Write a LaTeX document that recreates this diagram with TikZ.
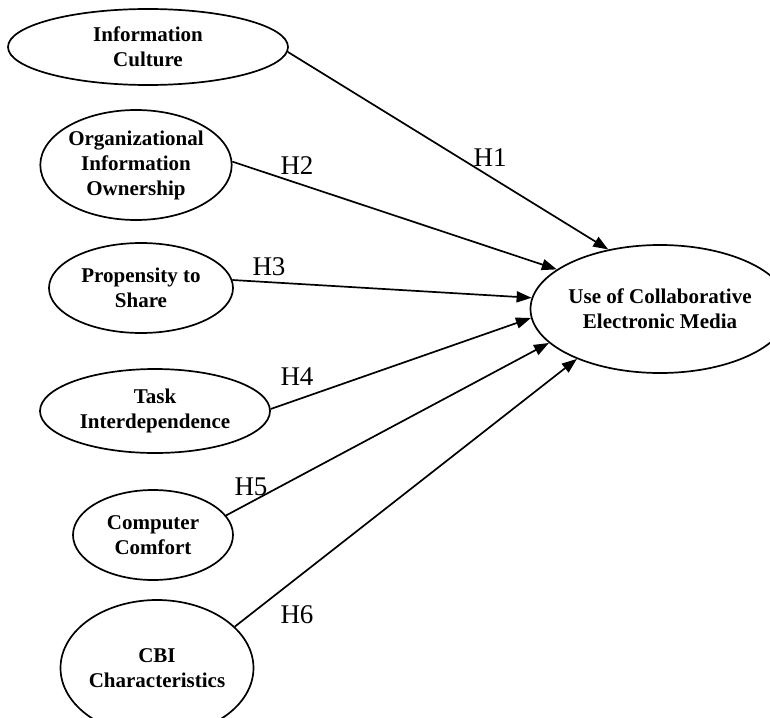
\documentclass[tikz,border=0pt]{standalone}
\usepackage{fontspec}
\setmainfont{Liberation Serif}
\usetikzlibrary{arrows.meta,shapes.geometric}
\begin{document}
\begin{tikzpicture}[x=1pt,y=-1pt,
  construct/.style={ellipse,draw,line width=1.7pt,inner sep=0pt,align=center,
    font=\fontsize{21}{25}\selectfont\bfseries},
  link/.style={line width=1.7pt,-{Triangle[length=15pt,width=11pt]}},
  hlabel/.style={font=\fontsize{27}{30}\selectfont}]
\useasboundingbox (0,0) rectangle (770,717);
\clip (0,0) rectangle (770,717);
\node[construct,minimum width=280,minimum height=76] (ic) at (148,47) {Information\\Culture};
\node[construct,minimum width=181,minimum height=110] (oio) at (136,165) {Organizational\\Information\\Ownership};
\node[construct,minimum width=184,minimum height=90] (ps) at (141,288) {Propensity to\\Share};
\node[construct,minimum width=230,minimum height=84] (ti) at (155,411) {Task\\Interdependence};
\node[construct,minimum width=160,minimum height=90] (cc) at (153,535) {Computer\\Comfort};
\node[construct,minimum width=166,minimum height=136] (cbi) at (157,668) {CBI\\Characteristics};
\node[construct,minimum width=228,minimum height=128] (use) at (660,309) {Use of Collaborative\\Electronic Media};
\draw[link] (ic.-2) -- (use.131);
\draw[link] (oio.2) -- (use.159);
\draw[link] (ps.5) -- (use.175);
\draw[link] (ti.1.5) -- (use.-176);
\draw[link] (cc.15) -- (use.-163.7);
\draw[link] (cbi.28.7) -- (use.-149.5);
\node[hlabel] (h1) at (490,158) {H1};
\node[hlabel] (h2) at (297,166) {H2};
\node[hlabel] (h3) at (269,267) {H3};
\node[hlabel] (h4) at (297,377) {H4};
\node[hlabel] (h5) at (251,487) {H5};
\node[hlabel] (h6) at (297,615) {H6};
\end{tikzpicture}
\end{document}
